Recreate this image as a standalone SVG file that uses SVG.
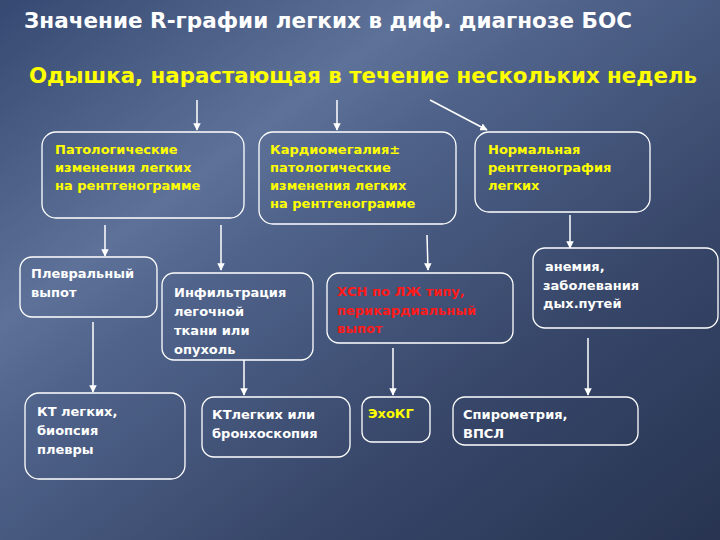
<svg xmlns="http://www.w3.org/2000/svg" width="720" height="540" viewBox="0 0 720 540">
<defs>
<linearGradient id="bg" x1="0" y1="0" x2="1" y2="1">
<stop offset="0" stop-color="#3b4f7a"/>
<stop offset="0.3" stop-color="#6a7fa8"/>
<stop offset="0.4" stop-color="#5a6e98"/>
<stop offset="0.7" stop-color="#3c4c70"/>
<stop offset="1" stop-color="#2a3654"/>
</linearGradient>
<marker id="ah" viewBox="0 0 10 10" refX="9" refY="5" markerWidth="5" markerHeight="5" orient="auto"><path d="M0,0L10,5L0,10z" fill="#fff"/></marker>
<style>
.b{fill:none;stroke:#fff;stroke-width:1.3}
.t{font-family:"DejaVu Sans",sans-serif;font-weight:bold;font-size:13px;fill:#fff}
.y{fill:#ffff00}
.r{fill:#ff1a1a}
.c{stroke:#fff;stroke-width:1.5;marker-end:url(#ah)}
</style>
</defs>
<rect width="720" height="540" fill="url(#bg)"/>
<rect x="0" y="0" width="720" height="540" fill="#1e2640" opacity="0.15"/>
<text x="24" y="28" font-family="DejaVu Sans,sans-serif" font-weight="bold" font-size="21" fill="#fff" textLength="608" lengthAdjust="spacingAndGlyphs">Значение R-графии легких в диф. диагнозе БОС</text>
<text x="29" y="83" font-family="DejaVu Sans,sans-serif" font-weight="bold" font-size="21" fill="#ffff00" textLength="668" lengthAdjust="spacingAndGlyphs">Одышка, нарастающая в течение нескольких недель</text>
<g id="connectors">
<line class="c" x1="197" y1="100" x2="197" y2="130"/>
<line class="c" x1="337" y1="100" x2="337" y2="130"/>
<line class="c" x1="430" y1="100" x2="487" y2="130"/>
<line class="c" x1="105" y1="225" x2="105" y2="256"/>
<line class="c" x1="221" y1="225" x2="221" y2="270"/>
<line class="c" x1="427" y1="235" x2="428" y2="270"/>
<line class="c" x1="570" y1="215" x2="570" y2="248"/>
<line class="c" x1="93" y1="322" x2="93" y2="392"/>
<line class="c" x1="244" y1="360" x2="244" y2="395"/>
<line class="c" x1="393" y1="348" x2="393" y2="395"/>
<line class="c" x1="588" y1="338" x2="588" y2="395"/>
</g>
<g id="n1"><rect class="b" x="42" y="132" width="202" height="86" rx="14"/><text class="t y"><tspan x="55" y="154">Патологические</tspan><tspan x="55" y="172">изменения легких</tspan><tspan x="55" y="190">на рентгенограмме</tspan></text></g>
<g id="n2"><rect class="b" x="259" y="132" width="197" height="92" rx="14"/><text class="t y"><tspan x="270" y="154">Кардиомегалия±</tspan><tspan x="270" y="172">патологические</tspan><tspan x="270" y="190">изменения легких</tspan><tspan x="270" y="208">на рентгенограмме</tspan></text></g>
<g id="n3"><rect class="b" x="475" y="132" width="175" height="80" rx="14"/><text class="t y"><tspan x="488" y="154">Нормальная</tspan><tspan x="488" y="172">рентгенография</tspan><tspan x="488" y="190">легких</tspan></text></g>
<g id="n4"><rect class="b" x="20" y="257" width="137" height="60" rx="12"/><text class="t"><tspan x="31" y="278">Плевральный</tspan><tspan x="31" y="297">выпот</tspan></text></g>
<g id="n5"><rect class="b" x="162" y="273" width="151" height="87" rx="12"/><text class="t"><tspan x="174" y="297">Инфильтрация</tspan><tspan x="174" y="316">легочной</tspan><tspan x="174" y="335">ткани или</tspan><tspan x="174" y="354">опухоль</tspan></text></g>
<g id="n6"><rect class="b" x="327" y="273" width="186" height="70" rx="12"/><text class="t r"><tspan x="337" y="296">ХСН по ЛЖ типу,</tspan><tspan x="337" y="315">перикардиальный</tspan><tspan x="337" y="333">выпот</tspan></text></g>
<g id="n7"><rect class="b" x="533" y="248" width="185" height="80" rx="12"/><text class="t"><tspan x="545" y="271"> анемия,</tspan><tspan x="543" y="290">заболевания</tspan><tspan x="543" y="308">дых.путей</tspan></text></g>
<g id="n8"><rect class="b" x="25" y="393" width="160" height="86" rx="14"/><text class="t"><tspan x="37" y="416">КТ легких,</tspan><tspan x="37" y="435">биопсия</tspan><tspan x="37" y="454">плевры</tspan></text></g>
<g id="n9"><rect class="b" x="202" y="397" width="148" height="60" rx="12"/><text class="t"><tspan x="212" y="419">КТлегких или</tspan><tspan x="212" y="438">бронхоскопия</tspan></text></g>
<g id="n10"><rect class="b" x="362" y="397" width="68" height="45" rx="10"/><text class="t y"><tspan x="368" y="418">ЭхоКГ</tspan></text></g>
<g id="n11"><rect class="b" x="453" y="397" width="185" height="48" rx="12"/><text class="t"><tspan x="463" y="419">Спирометрия,</tspan><tspan x="463" y="438">ВПСЛ</tspan></text></g>
</svg>
